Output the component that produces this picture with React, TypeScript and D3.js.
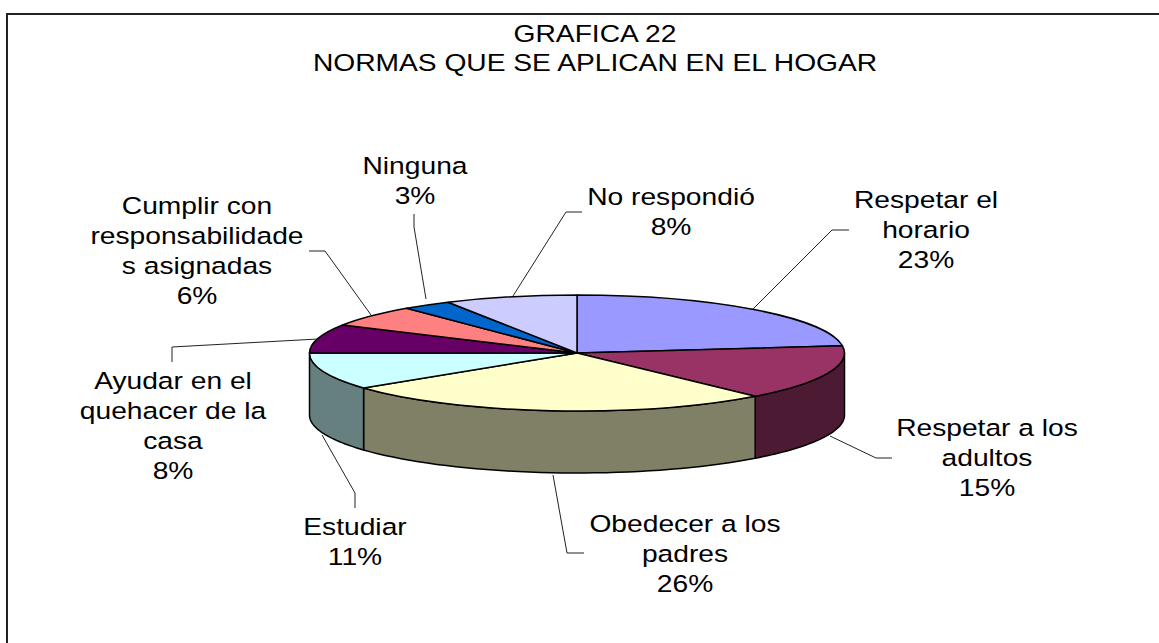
import React from "react";
import * as d3 from "d3";

const categories = [
  "Respetar el horario",
  "Respetar a los adultos",
  "Obedecer a los padres",
  "Estudiar",
  "Ayudar en el quehacer de la casa",
  "Cumplir con responsabilidades asignadas",
  "Ninguna",
  "No respondió",
];
const sliceValues = [23, 15.4, 26.3, 10.3, 8, 6, 3, 8];
const percentLabels = ["23%", "15%", "26%", "11%", "8%", "6%", "3%", "8%"];
const labelLines = [
  ["Respetar el", "horario"],
  ["Respetar a los", "adultos"],
  ["Obedecer a los", "padres"],
  ["Estudiar"],
  ["Ayudar en el", "quehacer de la", "casa"],
  ["Cumplir con", "responsabilidade", "s asignadas"],
  ["Ninguna"],
  ["No respondió"],
];
const titleLines = ["GRAFICA 22", "NORMAS QUE SE APLICAN EN EL HOGAR"];
const topColors = ["#9999FF", "#993366", "#FFFFCC", "#CCFFFF", "#660066", "#FF8080", "#0066CC", "#CCCCFF"];
const sideColors = ["#4D4D80", "#4C1A33", "#808066", "#668080", "#330033", "#804040", "#003366", "#666680"];

// Annotation layout (label centre, first baseline, leader polyline)
const labelX = [926, 987, 685, 355, 173, 197, 415, 671];
const labelY = [208, 436, 532, 535, 389, 214, 174, 205];
const leaders: [number, number][][] = [
  [[849, 230], [832, 230], [753, 309]],
  [[892, 458], [876, 458], [830, 436]],
  [[584, 553], [567, 553], [553, 475]],
  [[355, 508], [355, 493], [322, 435]],
  [[172, 362], [172, 347], [318, 339]],
  [[309, 251], [325, 251], [371, 315]],
  [[414, 214], [414, 227], [426, 299]],
  [[582, 212], [566, 212], [513, 296]],
];

const W = 1159;
const H = 643;
const CX = 577;
const CY = 353;
const RX = 267.5;
const RY = 58;
const DEPTH = 62;
const FONT = 23.5;
const STRETCH = 1.2;

const pie = d3.pie<number>().sort(null).value((d) => d);
const arcs = pie(sliceValues);
const unitArc = d3.arc<d3.PieArcDatum<number>>().innerRadius(0).outerRadius(1);

const px = d3.scaleLinear().domain([-1, 1]).range([CX - RX, CX + RX]);
const py = d3.scaleLinear().domain([-1, 1]).range([CY - RY, CY + RY]);
const line = d3.line();

function wallPath(a0: number, a1: number): string | null {
  const s = Math.max(a0, Math.PI / 2);
  const e = Math.min(a1, (3 * Math.PI) / 2);
  if (e <= s) return null;
  const ts = d3.range(0, 41).map((i) => s + ((e - s) * i) / 40);
  const topEdge = ts.map((t) => [px(Math.sin(t)), py(-Math.cos(t))] as [number, number]);
  const bottomEdge = ts
    .slice()
    .reverse()
    .map((t) => [px(Math.sin(t)), py(-Math.cos(t)) + DEPTH] as [number, number]);
  return line([...topEdge, ...bottomEdge]) + "Z";
}

function StretchedText({ x, y, children }: { x: number; y: number; children: string }) {
  return (
    <text
      transform={`translate(${x},${y}) scale(${STRETCH},1)`}
      textAnchor="middle"
      fontFamily="'Liberation Sans', Arial, sans-serif"
      fontSize={FONT}
      fill="#000"
    >
      {children}
    </text>
  );
}

export default function App() {
  return (
    <svg
      width={W}
      height={H}
      viewBox={`0 0 ${W} ${H}`}
      style={{ position: "fixed", left: 0, top: 0, display: "block", background: "#fff" }}
    >
      <path d={`M7 ${H}V14H${W}`} fill="none" stroke="#222" strokeWidth={2} />
      {titleLines.map((t, i) => (
        <StretchedText key={t} x={595} y={42 + i * 29}>
          {t}
        </StretchedText>
      ))}

      {arcs.map((a, i) => {
        const d = wallPath(a.startAngle, a.endAngle);
        return d ? (
          <path key={categories[i]} d={d} fill={sideColors[i]} stroke="#000" strokeWidth={1.5} strokeLinejoin="round" />
        ) : null;
      })}
      <g transform={`translate(${CX},${CY}) scale(${RX},${RY})`}>
        {arcs.map((a, i) => (
          <path
            key={categories[i]}
            d={unitArc(a) as string}
            fill={topColors[i]}
            stroke="#000"
            strokeWidth={1.5}
            strokeLinejoin="round"
            vectorEffect="non-scaling-stroke"
          />
        ))}
      </g>

      {leaders.map((pts, i) => (
        <path key={categories[i]} d={line(pts) as string} fill="none" stroke="#222" strokeWidth={1} />
      ))}

      {categories.map((c, i) => {
        const rows = [...labelLines[i], percentLabels[i]];
        return (
          <g key={c}>
            {rows.map((r, j) => (
              <StretchedText key={j} x={labelX[i]} y={labelY[i] + j * 30}>
                {r}
              </StretchedText>
            ))}
          </g>
        );
      })}
    </svg>
  );
}
